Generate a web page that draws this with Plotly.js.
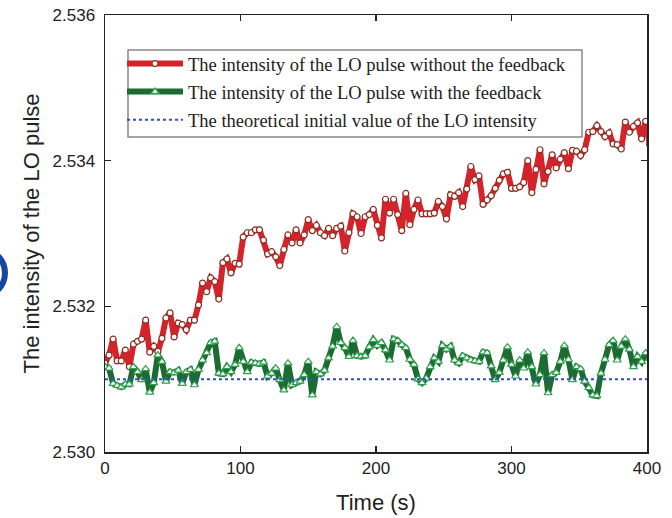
<!DOCTYPE html>
<html>
<head>
<meta charset="utf-8">
<script src="https://cdn.plot.ly/plotly-3.0.1.min.js"></script>
<style>
html,body{margin:0;padding:0;background:#fff;}
#chart{width:672px;height:518px;}
</style>
</head>
<body>
<div id="chart"></div>
<script>
// Time (s)
var timeS = [0,3,6,9,12,15,18,21,24,27,30,33,36,39,42,45,48,51,54,57,60,63,66,69,72,75,78,81,84,87,90,93,96,99,
102,105,108,111,114,117,120,123,126,129,132,135,138,141,144,147,150,153,156,159,162,165,168,171,174,177,180,183,186,189,192,195,198,
201,204,207,210,213,216,219,222,225,228,231,234,237,240,243,246,249,252,255,258,261,264,267,270,273,276,279,282,285,288,291,294,297,
300,303,306,309,312,315,318,321,324,327,330,333,336,339,342,345,348,351,354,357,360,363,366,369,372,375,378,381,384,387,390,393,396,399,402];

// LO intensity without feedback
var withoutFeedback = [2.53122,2.53133,2.53155,2.53125,2.53125,2.53140,2.53117,2.53148,2.53152,2.53155,2.53181,2.53137,2.53145,2.53138,2.53156,2.53184,2.53191,2.53158,2.53177,2.53175,2.53168,2.53181,2.53181,2.53202,2.53232,2.53220,2.53239,2.53234,2.53210,2.53260,2.53265,2.53246,2.53259,2.53258,
2.53295,2.53301,2.53301,2.53305,2.53305,2.53291,2.53272,2.53275,2.53268,2.53256,2.53278,2.53298,2.53287,2.53305,2.53287,2.53298,2.53319,2.53304,2.53311,2.53301,2.53297,2.53307,2.53297,2.53307,2.53310,2.53276,2.53301,2.53327,2.53323,2.53300,2.53323,2.53326,2.53333,
2.53311,2.53294,2.53347,2.53328,2.53347,2.53326,2.53304,2.53355,2.53312,2.53333,2.53346,2.53327,2.53327,2.53327,2.53328,2.53344,2.53337,2.53320,2.53353,2.53351,2.53356,2.53337,2.53361,2.53392,2.53374,2.53379,2.53340,2.53346,2.53352,2.53362,2.53373,2.53382,2.53384,
2.53362,2.53362,2.53364,2.53370,2.53400,2.53356,2.53388,2.53415,2.53368,2.53385,2.53408,2.53390,2.53402,2.53411,2.53389,2.53414,2.53413,2.53407,2.53415,2.53439,2.53440,2.53448,2.53440,2.53433,2.53438,2.53423,2.53422,2.53416,2.53453,2.53439,2.53447,2.53452,2.53430,2.53454,2.53422];

// LO intensity with feedback
var withFeedback = [2.53117,2.53115,2.53094,2.53091,2.53089,2.53093,2.53093,2.53117,2.53110,2.53099,2.53114,2.53082,2.53095,2.53133,2.53124,2.53097,2.53110,2.53109,2.53112,2.53094,2.53110,2.53113,2.53092,2.53113,2.53126,2.53136,2.53150,2.53152,2.53108,2.53107,2.53117,2.53110,2.53120,2.53143,
2.53124,2.53110,2.53123,2.53122,2.53121,2.53123,2.53104,2.53108,2.53115,2.53099,2.53085,2.53122,2.53092,2.53095,2.53097,2.53106,2.53124,2.53078,2.53110,2.53107,2.53112,2.53129,2.53145,2.53172,2.53150,2.53143,2.53131,2.53153,2.53132,2.53131,2.53132,2.53144,2.53154,
2.53146,2.53150,2.53140,2.53126,2.53155,2.53153,2.53147,2.53143,2.53127,2.53120,2.53100,2.53095,2.53101,2.53117,2.53129,2.53124,2.53146,2.53141,2.53145,2.53126,2.53122,2.53132,2.53129,2.53126,2.53125,2.53124,2.53137,2.53136,2.53118,2.53099,2.53109,2.53126,2.53144,
2.53120,2.53104,2.53126,2.53115,2.53137,2.53117,2.53093,2.53106,2.53136,2.53081,2.53106,2.53109,2.53124,2.53146,2.53127,2.53099,2.53117,2.53114,2.53097,2.53088,2.53078,2.53077,2.53108,2.53127,2.53147,2.53153,2.53126,2.53145,2.53155,2.53141,2.53117,2.53131,2.53124,2.53136,2.53128];

// Theoretical initial value
var theoryTime = [0, 400];
var theoryValue = [2.531, 2.531];

var xTicks = [0, 100, 200, 300, 400];
var yTicks = [2.530, 2.532, 2.534, 2.536];
var yTickText = ['2.530', '2.532', '2.534', '2.536'];

var legendNames = [
  'The intensity of the LO pulse without the feedback',
  'The intensity of the LO pulse with the feedback',
  'The theoretical initial value of the LO intensity'
];

var traces = [
  {
    x: timeS, y: withoutFeedback, name: legendNames[0], legendgroup: 'a',
    type: 'scatter', mode: 'lines+markers',
    line: {color: '#d4232a', width: 6},
    marker: {symbol: 'circle', size: 6, color: '#ffffff', line: {color: '#8c2a1e', width: 1.2}}
  },
  {
    x: timeS, y: withFeedback, name: legendNames[1], legendgroup: 'b',
    type: 'scatter', mode: 'lines+markers',
    line: {color: '#1c6b30', width: 6},
    marker: {symbol: 'triangle-up', size: 7, color: '#ffffff', line: {color: '#2ea04e', width: 1.2}}
  },
  {
    x: theoryTime, y: theoryValue, name: legendNames[2], legendgroup: 'c',
    type: 'scatter', mode: 'lines',
    line: {color: '#2f4fc4', width: 2, dash: 'dot'}
  }
];

var tickFont = {family: 'Liberation Sans, Arial, sans-serif', size: 17, color: '#222'};
var titleFont = {family: 'Liberation Sans, Arial, sans-serif', size: 22, color: '#222'};

function px2x(p) { return (p - 105) / 542; }
function px2y(p) { return (452 - p) / 437; }

var layout = {
  width: 672, height: 518,
  margin: {l: 105, r: 25, t: 15, b: 66},
  paper_bgcolor: '#fff', plot_bgcolor: '#fff',
  showlegend: true,
  legend: {
    x: px2x(122), y: px2y(45), xanchor: 'left', yanchor: 'top',
    bgcolor: 'rgba(0,0,0,0)', borderwidth: 0,
    font: {family: 'Liberation Serif, Times New Roman, serif', size: 18.5, color: '#222'},
    traceorder: 'grouped', tracegroupgap: 1, itemwidth: 56
  },
  xaxis: {
    range: [0, 400], tickvals: xTicks, ticks: 'inside', ticklen: 6, tickwidth: 1.5,
    tickcolor: '#222', showline: true, linecolor: '#222', linewidth: 1.5, mirror: 'ticks',
    showgrid: false, zeroline: false, tickfont: tickFont,
    title: {text: 'Time (s)', font: titleFont, standoff: 17}
  },
  yaxis: {
    range: [2.530, 2.536], tickvals: yTicks, ticktext: yTickText, ticks: 'inside', ticklen: 6, tickwidth: 1.5,
    tickcolor: '#222', showline: true, linecolor: '#222', linewidth: 1.5, mirror: 'ticks',
    showgrid: false, zeroline: false, tickfont: tickFont, ticklabelstandoff: 5,
    title: {text: 'The intensity of the LO pulse', font: titleFont, standoff: 7}
  },
  shapes: [
    {type: 'rect', xref: 'paper', yref: 'paper', layer: 'above',
     x0: px2x(128), x1: px2x(582), y0: px2y(137), y1: px2y(50),
     line: {color: '#888', width: 1.5}, fillcolor: '#ffffff'},
    {type: 'circle', xref: 'paper', yref: 'paper',
     x0: px2x(-43), x1: px2x(5), y0: px2y(297), y1: px2y(249),
     line: {color: '#1547a0', width: 6}, fillcolor: 'rgba(0,0,0,0)'}
  ]
};

Plotly.newPlot('chart', traces, layout, {displayModeBar: false, staticPlot: true});
</script>
</body>
</html>
